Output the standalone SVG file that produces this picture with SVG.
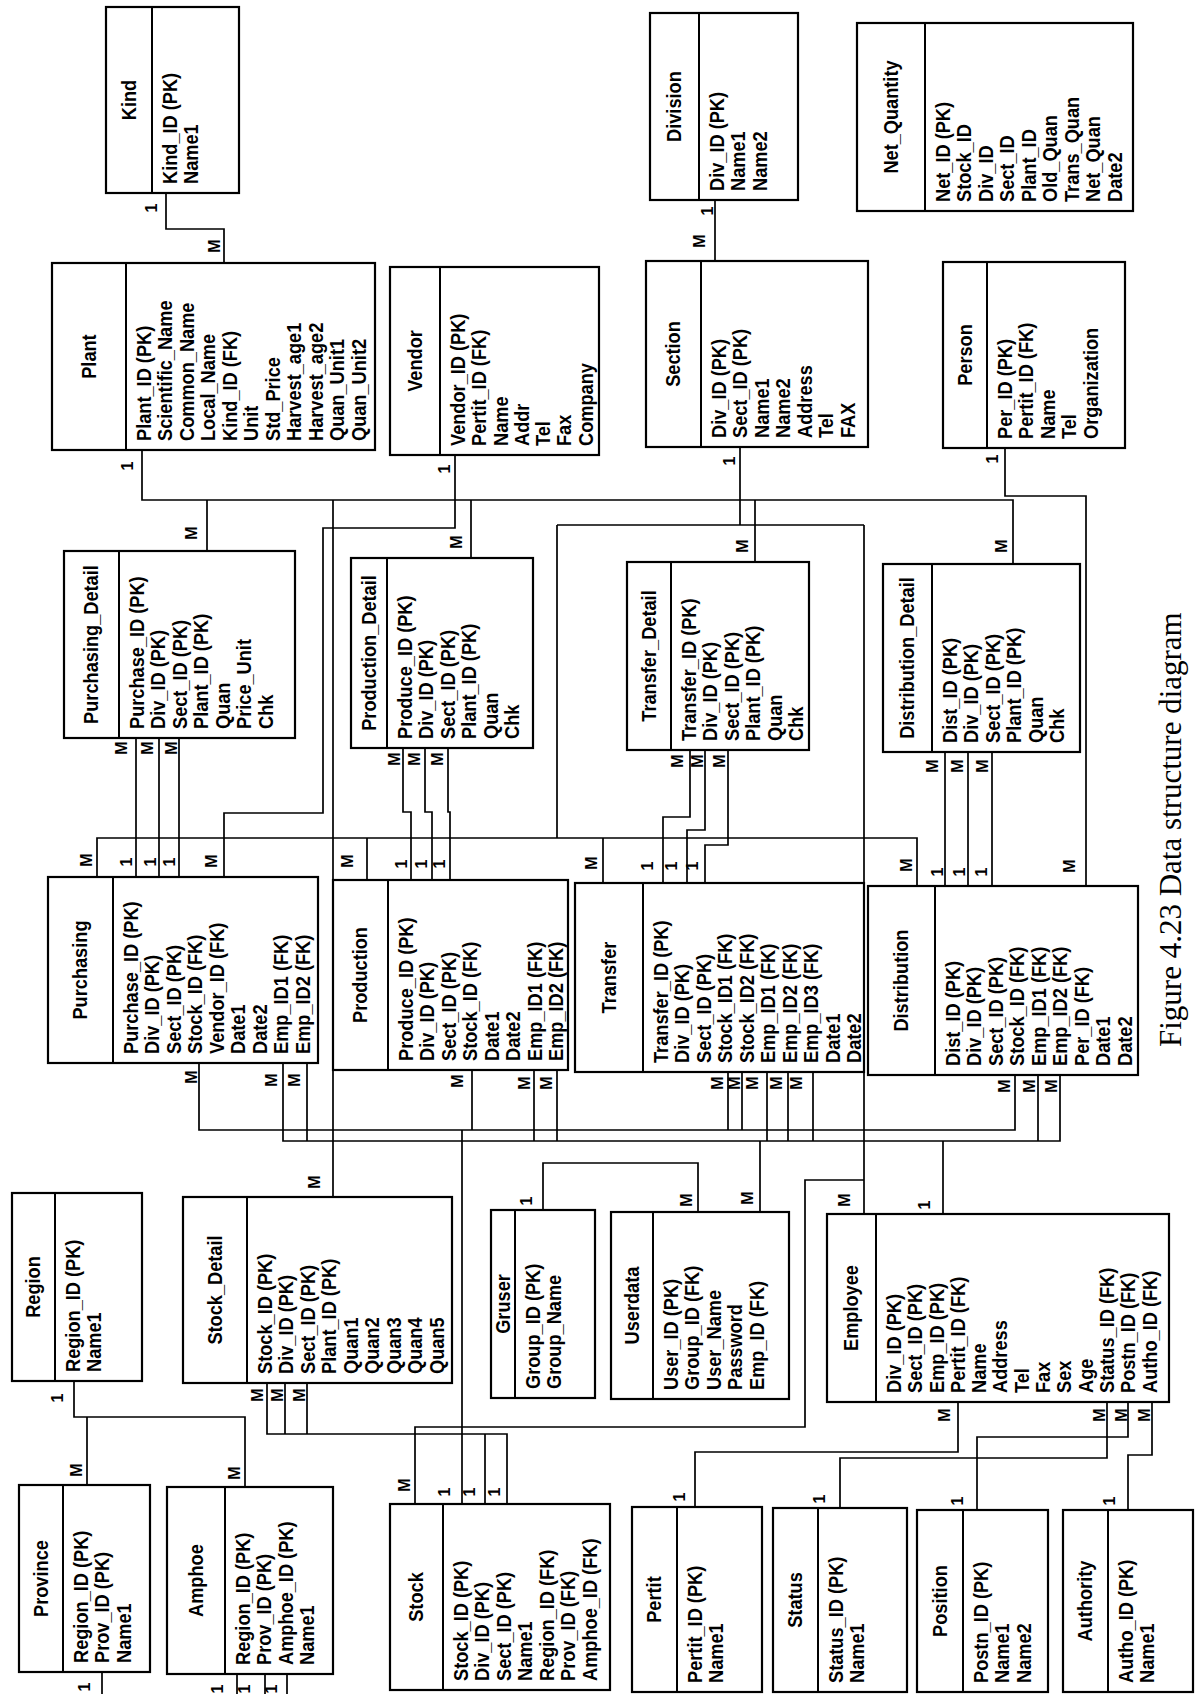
<svg xmlns="http://www.w3.org/2000/svg" width="1196" height="1694" viewBox="0 0 1196 1694">
<style>
.box{fill:#fff;stroke:#000;stroke-width:2.2}
.dv{stroke:#000;stroke-width:2}
#connectors path{fill:none;stroke:#000;stroke-width:1.7}
.t{font-family:"Liberation Sans",Arial,sans-serif;font-weight:bold;font-size:20px;fill:#000}
.ti{text-anchor:middle}
.lb{font-family:"Liberation Sans",Arial,sans-serif;font-weight:bold;font-size:16px;text-anchor:middle;fill:#000}
.cap{font-family:"Liberation Serif","Times New Roman",serif;font-size:31px;fill:#000}
</style>
<rect width="1196" height="1694" fill="#fff"/>
<g id="connectors">
<path d="M166 193V229H224V263"/>
<path d="M715 200V261"/>
<path d="M142 450V500H1013V564M207 500V551M333 500V1197M471 500V558M755 500V562"/>
<path d="M455 455V528H323V813H224V877"/>
<path d="M740 447V525M557 525H864M557 525V838M864 525V1214M97 877V838H917V886M367 838V880M603 838V883M864 1180H805V1427H415V1504"/>
<path d="M136 738V877M159 738V877M179 738V877"/>
<path d="M403 748V812H411V880M425 748V812H432V880M448 748V812H450V880"/>
<path d="M690 750V817H663V883M705 750V830H687V883M728 750V845H705V883"/>
<path d="M945 752V886M968 752V886M992 752V886"/>
<path d="M1005 448V496H1086V886"/>
<path d="M199 1063V1130H1015V1075M472 1070V1130M728 1072V1130M742 1072V1130M462 1130V1504"/>
<path d="M283 1063V1141H1060V1075M307 1063V1141M534 1070V1141M557 1070V1141M767 1072V1141M788 1072V1141M813 1072V1141M1038 1075V1141M943 1141V1214M760 1141V1212"/>
<path d="M543 1210V1163H698V1212"/>
<path d="M267 1383V1434H507V1504M285 1383V1434M307 1383V1434M485 1434V1504"/>
<path d="M74 1381V1417H245V1487M87 1417V1485"/>
<path d="M102 1672V1694M237 1674V1694M265 1674V1694M287 1674V1694"/>
<path d="M958 1402V1452H695V1507M1107 1402V1458H840V1508M1128 1402V1437H977V1510M1152 1402V1455H1128V1510"/>
<g id="cardinality">
<text class="lb" transform="translate(157 208) rotate(-90)">1</text>
<text class="lb" transform="translate(220 246) rotate(-90)">M</text>
<text class="lb" transform="translate(713 211) rotate(-90)">1</text>
<text class="lb" transform="translate(705 241) rotate(-90)">M</text>
<text class="lb" transform="translate(133 466) rotate(-90)">1</text>
<text class="lb" transform="translate(197 533) rotate(-90)">M</text>
<text class="lb" transform="translate(462 542) rotate(-90)">M</text>
<text class="lb" transform="translate(748 546) rotate(-90)">M</text>
<text class="lb" transform="translate(1007 546) rotate(-90)">M</text>
<text class="lb" transform="translate(320 1182) rotate(-90)">M</text>
<text class="lb" transform="translate(450 469) rotate(-90)">1</text>
<text class="lb" transform="translate(217 861) rotate(-90)">M</text>
<text class="lb" transform="translate(735 461) rotate(-90)">1</text>
<text class="lb" transform="translate(92 860) rotate(-90)">M</text>
<text class="lb" transform="translate(353 861) rotate(-90)">M</text>
<text class="lb" transform="translate(597 863) rotate(-90)">M</text>
<text class="lb" transform="translate(912 865) rotate(-90)">M</text>
<text class="lb" transform="translate(850 1200) rotate(-90)">M</text>
<text class="lb" transform="translate(410 1485) rotate(-90)">M</text>
<text class="lb" transform="translate(127 748) rotate(-90)">M</text>
<text class="lb" transform="translate(153 748) rotate(-90)">M</text>
<text class="lb" transform="translate(177 748) rotate(-90)">M</text>
<text class="lb" transform="translate(132 862) rotate(-90)">1</text>
<text class="lb" transform="translate(156 862) rotate(-90)">1</text>
<text class="lb" transform="translate(175 862) rotate(-90)">1</text>
<text class="lb" transform="translate(400 759) rotate(-90)">M</text>
<text class="lb" transform="translate(420 759) rotate(-90)">M</text>
<text class="lb" transform="translate(443 759) rotate(-90)">M</text>
<text class="lb" transform="translate(407 864) rotate(-90)">1</text>
<text class="lb" transform="translate(427 864) rotate(-90)">1</text>
<text class="lb" transform="translate(445 864) rotate(-90)">1</text>
<text class="lb" transform="translate(683 761) rotate(-90)">M</text>
<text class="lb" transform="translate(703 761) rotate(-90)">M</text>
<text class="lb" transform="translate(725 761) rotate(-90)">M</text>
<text class="lb" transform="translate(653 866) rotate(-90)">1</text>
<text class="lb" transform="translate(677 866) rotate(-90)">1</text>
<text class="lb" transform="translate(698 866) rotate(-90)">1</text>
<text class="lb" transform="translate(938 766) rotate(-90)">M</text>
<text class="lb" transform="translate(963 766) rotate(-90)">M</text>
<text class="lb" transform="translate(988 766) rotate(-90)">M</text>
<text class="lb" transform="translate(943 872) rotate(-90)">1</text>
<text class="lb" transform="translate(965 872) rotate(-90)">1</text>
<text class="lb" transform="translate(987 872) rotate(-90)">1</text>
<text class="lb" transform="translate(998 459) rotate(-90)">1</text>
<text class="lb" transform="translate(1075 866) rotate(-90)">M</text>
<text class="lb" transform="translate(197 1077) rotate(-90)">M</text>
<text class="lb" transform="translate(277 1080) rotate(-90)">M</text>
<text class="lb" transform="translate(300 1080) rotate(-90)">M</text>
<text class="lb" transform="translate(463 1081) rotate(-90)">M</text>
<text class="lb" transform="translate(530 1083) rotate(-90)">M</text>
<text class="lb" transform="translate(552 1083) rotate(-90)">M</text>
<text class="lb" transform="translate(723 1083) rotate(-90)">M</text>
<text class="lb" transform="translate(740 1083) rotate(-90)">M</text>
<text class="lb" transform="translate(758 1083) rotate(-90)">M</text>
<text class="lb" transform="translate(782 1083) rotate(-90)">M</text>
<text class="lb" transform="translate(802 1083) rotate(-90)">M</text>
<text class="lb" transform="translate(1010 1086) rotate(-90)">M</text>
<text class="lb" transform="translate(1035 1086) rotate(-90)">M</text>
<text class="lb" transform="translate(1057 1086) rotate(-90)">M</text>
<text class="lb" transform="translate(930 1205) rotate(-90)">1</text>
<text class="lb" transform="translate(753 1198) rotate(-90)">M</text>
<text class="lb" transform="translate(532 1201) rotate(-90)">1</text>
<text class="lb" transform="translate(692 1200) rotate(-90)">M</text>
<text class="lb" transform="translate(450 1492) rotate(-90)">1</text>
<text class="lb" transform="translate(475 1492) rotate(-90)">1</text>
<text class="lb" transform="translate(500 1492) rotate(-90)">1</text>
<text class="lb" transform="translate(263 1395) rotate(-90)">M</text>
<text class="lb" transform="translate(283 1395) rotate(-90)">M</text>
<text class="lb" transform="translate(305 1395) rotate(-90)">M</text>
<text class="lb" transform="translate(63 1398) rotate(-90)">1</text>
<text class="lb" transform="translate(82 1470) rotate(-90)">M</text>
<text class="lb" transform="translate(240 1473) rotate(-90)">M</text>
<text class="lb" transform="translate(90 1687) rotate(-90)">1</text>
<text class="lb" transform="translate(223 1689) rotate(-90)">1</text>
<text class="lb" transform="translate(250 1689) rotate(-90)">1</text>
<text class="lb" transform="translate(277 1689) rotate(-90)">1</text>
<text class="lb" transform="translate(950 1415) rotate(-90)">M</text>
<text class="lb" transform="translate(1105 1415) rotate(-90)">M</text>
<text class="lb" transform="translate(1127 1415) rotate(-90)">M</text>
<text class="lb" transform="translate(1150 1415) rotate(-90)">M</text>
<text class="lb" transform="translate(685 1497) rotate(-90)">1</text>
<text class="lb" transform="translate(825 1499) rotate(-90)">1</text>
<text class="lb" transform="translate(963 1501) rotate(-90)">1</text>
<text class="lb" transform="translate(1115 1501) rotate(-90)">1</text>
</g>
</g>

<g id="kind" transform="translate(106,193) rotate(-90)"><rect class="box" width="186" height="133"/><line class="dv" x1="0" y1="46" x2="186" y2="46"/><g transform="scale(.91,1)"><text class="t ti" x="102.2" y="30">Kind</text><text class="t"><tspan x="9.9" y="71">Kind_ID (PK)</tspan><tspan x="9.9" dy="21.5">Name1</tspan></text></g></g>

<g id="plant" transform="translate(52,450) rotate(-90)"><rect class="box" width="187" height="323"/><line class="dv" x1="0" y1="74" x2="187" y2="74"/><g transform="scale(.91,1)"><text class="t ti" x="102.7" y="44">Plant</text><text class="t"><tspan x="9.9" y="99">Plant_ID (PK)</tspan><tspan x="9.9" dy="21.5">Scientific_Name</tspan><tspan x="9.9" dy="21.5">Common_Name</tspan><tspan x="9.9" dy="21.5">Local_Name</tspan><tspan x="9.9" dy="21.5">Kind_ID (FK)</tspan><tspan x="9.9" dy="21.5">Unit</tspan><tspan x="9.9" dy="21.5">Std_Price</tspan><tspan x="9.9" dy="21.5">Harvest_age1</tspan><tspan x="9.9" dy="21.5">Harvest_age2</tspan><tspan x="9.9" dy="21.5">Quan_Unit1</tspan><tspan x="9.9" dy="21.5">Quan_Unit2</tspan></text></g></g>

<g id="vendor" transform="translate(390,455) rotate(-90)"><rect class="box" width="188" height="209"/><line class="dv" x1="0" y1="50" x2="188" y2="50"/><g transform="scale(.91,1)"><text class="t ti" x="103.3" y="32">Vendor</text><text class="t"><tspan x="9.9" y="75">Vendor_ID (PK)</tspan><tspan x="9.9" dy="21.3">Pertit_ID (FK)</tspan><tspan x="9.9" dy="21.3">Name</tspan><tspan x="9.9" dy="21.3">Addr</tspan><tspan x="9.9" dy="21.3">Tel</tspan><tspan x="9.9" dy="21.3">Fax</tspan><tspan x="9.9" dy="21.3">Company</tspan></text></g></g>

<g id="division" transform="translate(650,200) rotate(-90)"><rect class="box" width="187" height="148"/><line class="dv" x1="0" y1="49" x2="187" y2="49"/><g transform="scale(.91,1)"><text class="t ti" x="102.7" y="31.5">Division</text><text class="t"><tspan x="9.9" y="74">Div_ID (PK)</tspan><tspan x="9.9" dy="21.5">Name1</tspan><tspan x="9.9" dy="21.5">Name2</tspan></text></g></g>

<g id="section" transform="translate(646,447) rotate(-90)"><rect class="box" width="186" height="222"/><line class="dv" x1="0" y1="55" x2="186" y2="55"/><g transform="scale(.91,1)"><text class="t ti" x="102.2" y="34.5">Section</text><text class="t"><tspan x="9.9" y="80">Div_ID (PK)</tspan><tspan x="9.9" dy="21.5">Sect_ID (PK)</tspan><tspan x="9.9" dy="21.5">Name1</tspan><tspan x="9.9" dy="21.5">Name2</tspan><tspan x="9.9" dy="21.5">Address</tspan><tspan x="9.9" dy="21.5">Tel</tspan><tspan x="9.9" dy="21.5">FAX</tspan></text></g></g>

<g id="net_quantity" transform="translate(857,211) rotate(-90)"><rect class="box" width="188" height="276"/><line class="dv" x1="0" y1="68" x2="188" y2="68"/><g transform="scale(.91,1)"><text class="t ti" x="103.3" y="41">Net_Quantity</text><text class="t"><tspan x="9.9" y="93">Net_ID (PK)</tspan><tspan x="9.9" dy="21.5">Stock_ID</tspan><tspan x="9.9" dy="21.5">Div_ID</tspan><tspan x="9.9" dy="21.5">Sect_ID</tspan><tspan x="9.9" dy="21.5">Plant_ID</tspan><tspan x="9.9" dy="21.5">Old_Quan</tspan><tspan x="9.9" dy="21.5">Trans_Quan</tspan><tspan x="9.9" dy="21.5">Net_Quan</tspan><tspan x="9.9" dy="21.5">Date2</tspan></text></g></g>

<g id="person" transform="translate(943,448) rotate(-90)"><rect class="box" width="186" height="182"/><line class="dv" x1="0" y1="44" x2="186" y2="44"/><g transform="scale(.91,1)"><text class="t ti" x="102.2" y="29">Person</text><text class="t"><tspan x="9.9" y="69">Per_ID (PK)</tspan><tspan x="9.9" dy="21.5">Pertit_ID (FK)</tspan><tspan x="9.9" dy="21.5">Name</tspan><tspan x="9.9" dy="21.5">Tel</tspan><tspan x="9.9" dy="21.5">Organization</tspan></text></g></g>

<g id="purchasing_detail" transform="translate(64,738) rotate(-90)"><rect class="box" width="187" height="231"/><line class="dv" x1="0" y1="55" x2="187" y2="55"/><g transform="scale(.91,1)"><text class="t ti" x="102.7" y="34.5">Purchasing_Detail</text><text class="t"><tspan x="9.9" y="80">Purchase_ID (PK)</tspan><tspan x="9.9" dy="21.5">Div_ID (PK)</tspan><tspan x="9.9" dy="21.5">Sect_ID (PK)</tspan><tspan x="9.9" dy="21.5">Plant_ID (PK)</tspan><tspan x="9.9" dy="21.5">Quan</tspan><tspan x="9.9" dy="21.5">Price_Unit</tspan><tspan x="9.9" dy="21.5">Chk</tspan></text></g></g>

<g id="production_detail" transform="translate(351,748) rotate(-90)"><rect class="box" width="190" height="182"/><line class="dv" x1="0" y1="36" x2="190" y2="36"/><g transform="scale(.91,1)"><text class="t ti" x="104.4" y="25">Production_Detail</text><text class="t"><tspan x="9.9" y="61">Produce_ID (PK)</tspan><tspan x="9.9" dy="21.5">Div_ID (PK)</tspan><tspan x="9.9" dy="21.5">Sect_ID (PK)</tspan><tspan x="9.9" dy="21.5">Plant_ID (PK)</tspan><tspan x="9.9" dy="21.5">Quan</tspan><tspan x="9.9" dy="21.5">Chk</tspan></text></g></g>

<g id="transfer_detail" transform="translate(627,750) rotate(-90)"><rect class="box" width="188" height="182"/><line class="dv" x1="0" y1="44" x2="188" y2="44"/><g transform="scale(.91,1)"><text class="t ti" x="103.3" y="29">Transfer_Detail</text><text class="t"><tspan x="9.9" y="69">Transfer_ID (PK)</tspan><tspan x="9.9" dy="21.5">Div_ID (PK)</tspan><tspan x="9.9" dy="21.5">Sect_ID (PK)</tspan><tspan x="9.9" dy="21.5">Plant_ID (PK)</tspan><tspan x="9.9" dy="21.5">Quan</tspan><tspan x="9.9" dy="21.5">Chk</tspan></text></g></g>

<g id="distribution_detail" transform="translate(883,752) rotate(-90)"><rect class="box" width="188" height="197"/><line class="dv" x1="0" y1="49" x2="188" y2="49"/><g transform="scale(.91,1)"><text class="t ti" x="103.3" y="31.5">Distribution_Detail</text><text class="t"><tspan x="9.9" y="74">Dist_ID (PK)</tspan><tspan x="9.9" dy="21.5">Div_ID (PK)</tspan><tspan x="9.9" dy="21.5">Sect_ID (PK)</tspan><tspan x="9.9" dy="21.5">Plant_ID (PK)</tspan><tspan x="9.9" dy="21.5">Quan</tspan><tspan x="9.9" dy="21.5">Chk</tspan></text></g></g>

<g id="purchasing" transform="translate(48,1063) rotate(-90)"><rect class="box" width="186" height="270"/><line class="dv" x1="0" y1="65" x2="186" y2="65"/><g transform="scale(.91,1)"><text class="t ti" x="102.2" y="39.5">Purchasing</text><text class="t"><tspan x="9.9" y="90">Purchase_ID (PK)</tspan><tspan x="9.9" dy="21.5">Div_ID (PK)</tspan><tspan x="9.9" dy="21.5">Sect_ID (PK)</tspan><tspan x="9.9" dy="21.5">Stock_ID (FK)</tspan><tspan x="9.9" dy="21.5">Vendor_ID (FK)</tspan><tspan x="9.9" dy="21.5">Date1</tspan><tspan x="9.9" dy="21.5">Date2</tspan><tspan x="9.9" dy="21.5">Emp_ID1 (FK)</tspan><tspan x="9.9" dy="21.5">Emp_ID2 (FK)</tspan></text></g></g>

<g id="production" transform="translate(333,1070) rotate(-90)"><rect class="box" width="190" height="235"/><line class="dv" x1="0" y1="55" x2="190" y2="55"/><g transform="scale(.91,1)"><text class="t ti" x="104.4" y="34.5">Production</text><text class="t"><tspan x="9.9" y="80">Produce_ID (PK)</tspan><tspan x="9.9" dy="21.5">Div_ID (PK)</tspan><tspan x="9.9" dy="21.5">Sect_ID (PK)</tspan><tspan x="9.9" dy="21.5">Stock_ID (FK)</tspan><tspan x="9.9" dy="21.5">Date1</tspan><tspan x="9.9" dy="21.5">Date2</tspan><tspan x="9.9" dy="21.5">Emp_ID1 (FK)</tspan><tspan x="9.9" dy="21.5">Emp_ID2 (FK)</tspan></text></g></g>

<g id="transfer" transform="translate(575,1072) rotate(-90)"><rect class="box" width="189" height="289"/><line class="dv" x1="0" y1="68" x2="189" y2="68"/><g transform="scale(.91,1)"><text class="t ti" x="103.8" y="41">Transfer</text><text class="t"><tspan x="9.9" y="93">Transfer_ID (PK)</tspan><tspan x="9.9" dy="21.5">Div_ID (PK)</tspan><tspan x="9.9" dy="21.5">Sect_ID (PK)</tspan><tspan x="9.9" dy="21.5">Stock_ID1 (FK)</tspan><tspan x="9.9" dy="21.5">Stock_ID2 (FK)</tspan><tspan x="9.9" dy="21.5">Emp_ID1 (FK)</tspan><tspan x="9.9" dy="21.5">Emp_ID2 (FK)</tspan><tspan x="9.9" dy="21.5">Emp_ID3 (FK)</tspan><tspan x="9.9" dy="21.5">Date1</tspan><tspan x="9.9" dy="21.5">Date2</tspan></text></g></g>

<g id="distribution" transform="translate(868,1075) rotate(-90)"><rect class="box" width="189" height="270"/><line class="dv" x1="0" y1="67" x2="189" y2="67"/><g transform="scale(.91,1)"><text class="t ti" x="103.8" y="40.5">Distribution</text><text class="t"><tspan x="9.9" y="92">Dist_ID (PK)</tspan><tspan x="9.9" dy="21.5">Div_ID (PK)</tspan><tspan x="9.9" dy="21.5">Sect_ID (PK)</tspan><tspan x="9.9" dy="21.5">Stock_ID (FK)</tspan><tspan x="9.9" dy="21.5">Emp_ID1 (FK)</tspan><tspan x="9.9" dy="21.5">Emp_ID2 (FK)</tspan><tspan x="9.9" dy="21.5">Per_ID (FK)</tspan><tspan x="9.9" dy="21.5">Date1</tspan><tspan x="9.9" dy="21.5">Date2</tspan></text></g></g>

<g id="region" transform="translate(12,1381) rotate(-90)"><rect class="box" width="188" height="130"/><line class="dv" x1="0" y1="43" x2="188" y2="43"/><g transform="scale(.91,1)"><text class="t ti" x="103.3" y="28.5">Region</text><text class="t"><tspan x="9.9" y="68">Region_ID (PK)</tspan><tspan x="9.9" dy="21.5">Name1</tspan></text></g></g>

<g id="stock_detail" transform="translate(183,1383) rotate(-90)"><rect class="box" width="186" height="269"/><line class="dv" x1="0" y1="64" x2="186" y2="64"/><g transform="scale(.91,1)"><text class="t ti" x="102.2" y="39">Stock_Detail</text><text class="t"><tspan x="9.9" y="89">Stock_ID (PK)</tspan><tspan x="9.9" dy="21.5">Div_ID (PK)</tspan><tspan x="9.9" dy="21.5">Sect_ID (PK)</tspan><tspan x="9.9" dy="21.5">Plant_ID (PK)</tspan><tspan x="9.9" dy="21.5">Quan1</tspan><tspan x="9.9" dy="21.5">Quan2</tspan><tspan x="9.9" dy="21.5">Quan3</tspan><tspan x="9.9" dy="21.5">Quan4</tspan><tspan x="9.9" dy="21.5">Quan5</tspan></text></g></g>

<g id="gruser" transform="translate(491,1398) rotate(-90)"><rect class="box" width="188" height="104"/><line class="dv" x1="0" y1="24" x2="188" y2="24"/><g transform="scale(.91,1)"><text class="t ti" x="103.3" y="19">Gruser</text><text class="t"><tspan x="9.9" y="49">Group_ID (PK)</tspan><tspan x="9.9" dy="21.5">Group_Name</tspan></text></g></g>

<g id="userdata" transform="translate(611,1399) rotate(-90)"><rect class="box" width="187" height="178"/><line class="dv" x1="0" y1="42" x2="187" y2="42"/><g transform="scale(.91,1)"><text class="t ti" x="102.7" y="28">Userdata</text><text class="t"><tspan x="9.9" y="67">User_ID (PK)</tspan><tspan x="9.9" dy="21.5">Group_ID (FK)</tspan><tspan x="9.9" dy="21.5">User_Name</tspan><tspan x="9.9" dy="21.5">Password</tspan><tspan x="9.9" dy="21.5">Emp_ID (FK)</tspan></text></g></g>

<g id="employee" transform="translate(827,1402) rotate(-90)"><rect class="box" width="188" height="342"/><line class="dv" x1="0" y1="49" x2="188" y2="49"/><g transform="scale(.91,1)"><text class="t ti" x="103.3" y="31.5">Employee</text><text class="t"><tspan x="9.9" y="74">Div_ID (PK)</tspan><tspan x="9.9" dy="21.3">Sect_ID (PK)</tspan><tspan x="9.9" dy="21.3">Emp_ID (PK)</tspan><tspan x="9.9" dy="21.3">Pertit_ID (FK)</tspan><tspan x="9.9" dy="21.3">Name</tspan><tspan x="9.9" dy="21.3">Address</tspan><tspan x="9.9" dy="21.3">Tel</tspan><tspan x="9.9" dy="21.3">Fax</tspan><tspan x="9.9" dy="21.3">Sex</tspan><tspan x="9.9" dy="21.3">Age</tspan><tspan x="9.9" dy="21.3">Status_ID (FK)</tspan><tspan x="9.9" dy="21.3">Postn_ID (FK)</tspan><tspan x="9.9" dy="21.3">Autho_ID (FK)</tspan></text></g></g>

<g id="province" transform="translate(19,1672) rotate(-90)"><rect class="box" width="187" height="131"/><line class="dv" x1="0" y1="44" x2="187" y2="44"/><g transform="scale(.91,1)"><text class="t ti" x="102.7" y="29">Province</text><text class="t"><tspan x="9.9" y="69">Region_ID (PK)</tspan><tspan x="9.9" dy="21.5">Prov_ID (PK)</tspan><tspan x="9.9" dy="21.5">Name1</tspan></text></g></g>

<g id="amphoe" transform="translate(167,1674) rotate(-90)"><rect class="box" width="187" height="166"/><line class="dv" x1="0" y1="58" x2="187" y2="58"/><g transform="scale(.91,1)"><text class="t ti" x="102.7" y="36">Amphoe</text><text class="t"><tspan x="9.9" y="83">Region_ID (PK)</tspan><tspan x="9.9" dy="21.5">Prov_ID (PK)</tspan><tspan x="9.9" dy="21.5">Amphoe_ID (PK)</tspan><tspan x="9.9" dy="21.5">Name1</tspan></text></g></g>

<g id="stock" transform="translate(390,1690) rotate(-90)"><rect class="box" width="186" height="220"/><line class="dv" x1="0" y1="53" x2="186" y2="53"/><g transform="scale(.91,1)"><text class="t ti" x="102.2" y="33.5">Stock</text><text class="t"><tspan x="9.9" y="78">Stock_ID (PK)</tspan><tspan x="9.9" dy="21.5">Div_ID (PK)</tspan><tspan x="9.9" dy="21.5">Sect_ID (PK)</tspan><tspan x="9.9" dy="21.5">Name1</tspan><tspan x="9.9" dy="21.5">Region_ID (FK)</tspan><tspan x="9.9" dy="21.5">Prov_ID (FK)</tspan><tspan x="9.9" dy="21.5">Amphoe_ID (FK)</tspan></text></g></g>

<g id="pertit" transform="translate(632,1692) rotate(-90)"><rect class="box" width="185" height="130"/><line class="dv" x1="0" y1="45" x2="185" y2="45"/><g transform="scale(.91,1)"><text class="t ti" x="101.6" y="29.5">Pertit</text><text class="t"><tspan x="9.9" y="70">Pertit_ID (PK)</tspan><tspan x="9.9" dy="21.5">Name1</tspan></text></g></g>

<g id="status" transform="translate(773,1692) rotate(-90)"><rect class="box" width="184" height="134"/><line class="dv" x1="0" y1="45" x2="184" y2="45"/><g transform="scale(.91,1)"><text class="t ti" x="101.1" y="29.5">Status</text><text class="t"><tspan x="9.9" y="70">Status_ID (PK)</tspan><tspan x="9.9" dy="21.5">Name1</tspan></text></g></g>

<g id="position" transform="translate(917,1692) rotate(-90)"><rect class="box" width="182" height="131"/><line class="dv" x1="0" y1="46" x2="182" y2="46"/><g transform="scale(.91,1)"><text class="t ti" x="100" y="30">Position</text><text class="t"><tspan x="9.9" y="71">Postn_ID (PK)</tspan><tspan x="9.9" dy="21.5">Name1</tspan><tspan x="9.9" dy="21.5">Name2</tspan></text></g></g>

<g id="authority" transform="translate(1063,1692) rotate(-90)"><rect class="box" width="182" height="130"/><line class="dv" x1="0" y1="45" x2="182" y2="45"/><g transform="scale(.91,1)"><text class="t ti" x="100" y="29.5">Authority</text><text class="t"><tspan x="9.9" y="70">Autho_ID (PK)</tspan><tspan x="9.9" dy="21.5">Name1</tspan></text></g></g>

<text class="cap" transform="translate(1181,1047) rotate(-90)">Figure 4.23 Data structure diagram</text>
</svg>
